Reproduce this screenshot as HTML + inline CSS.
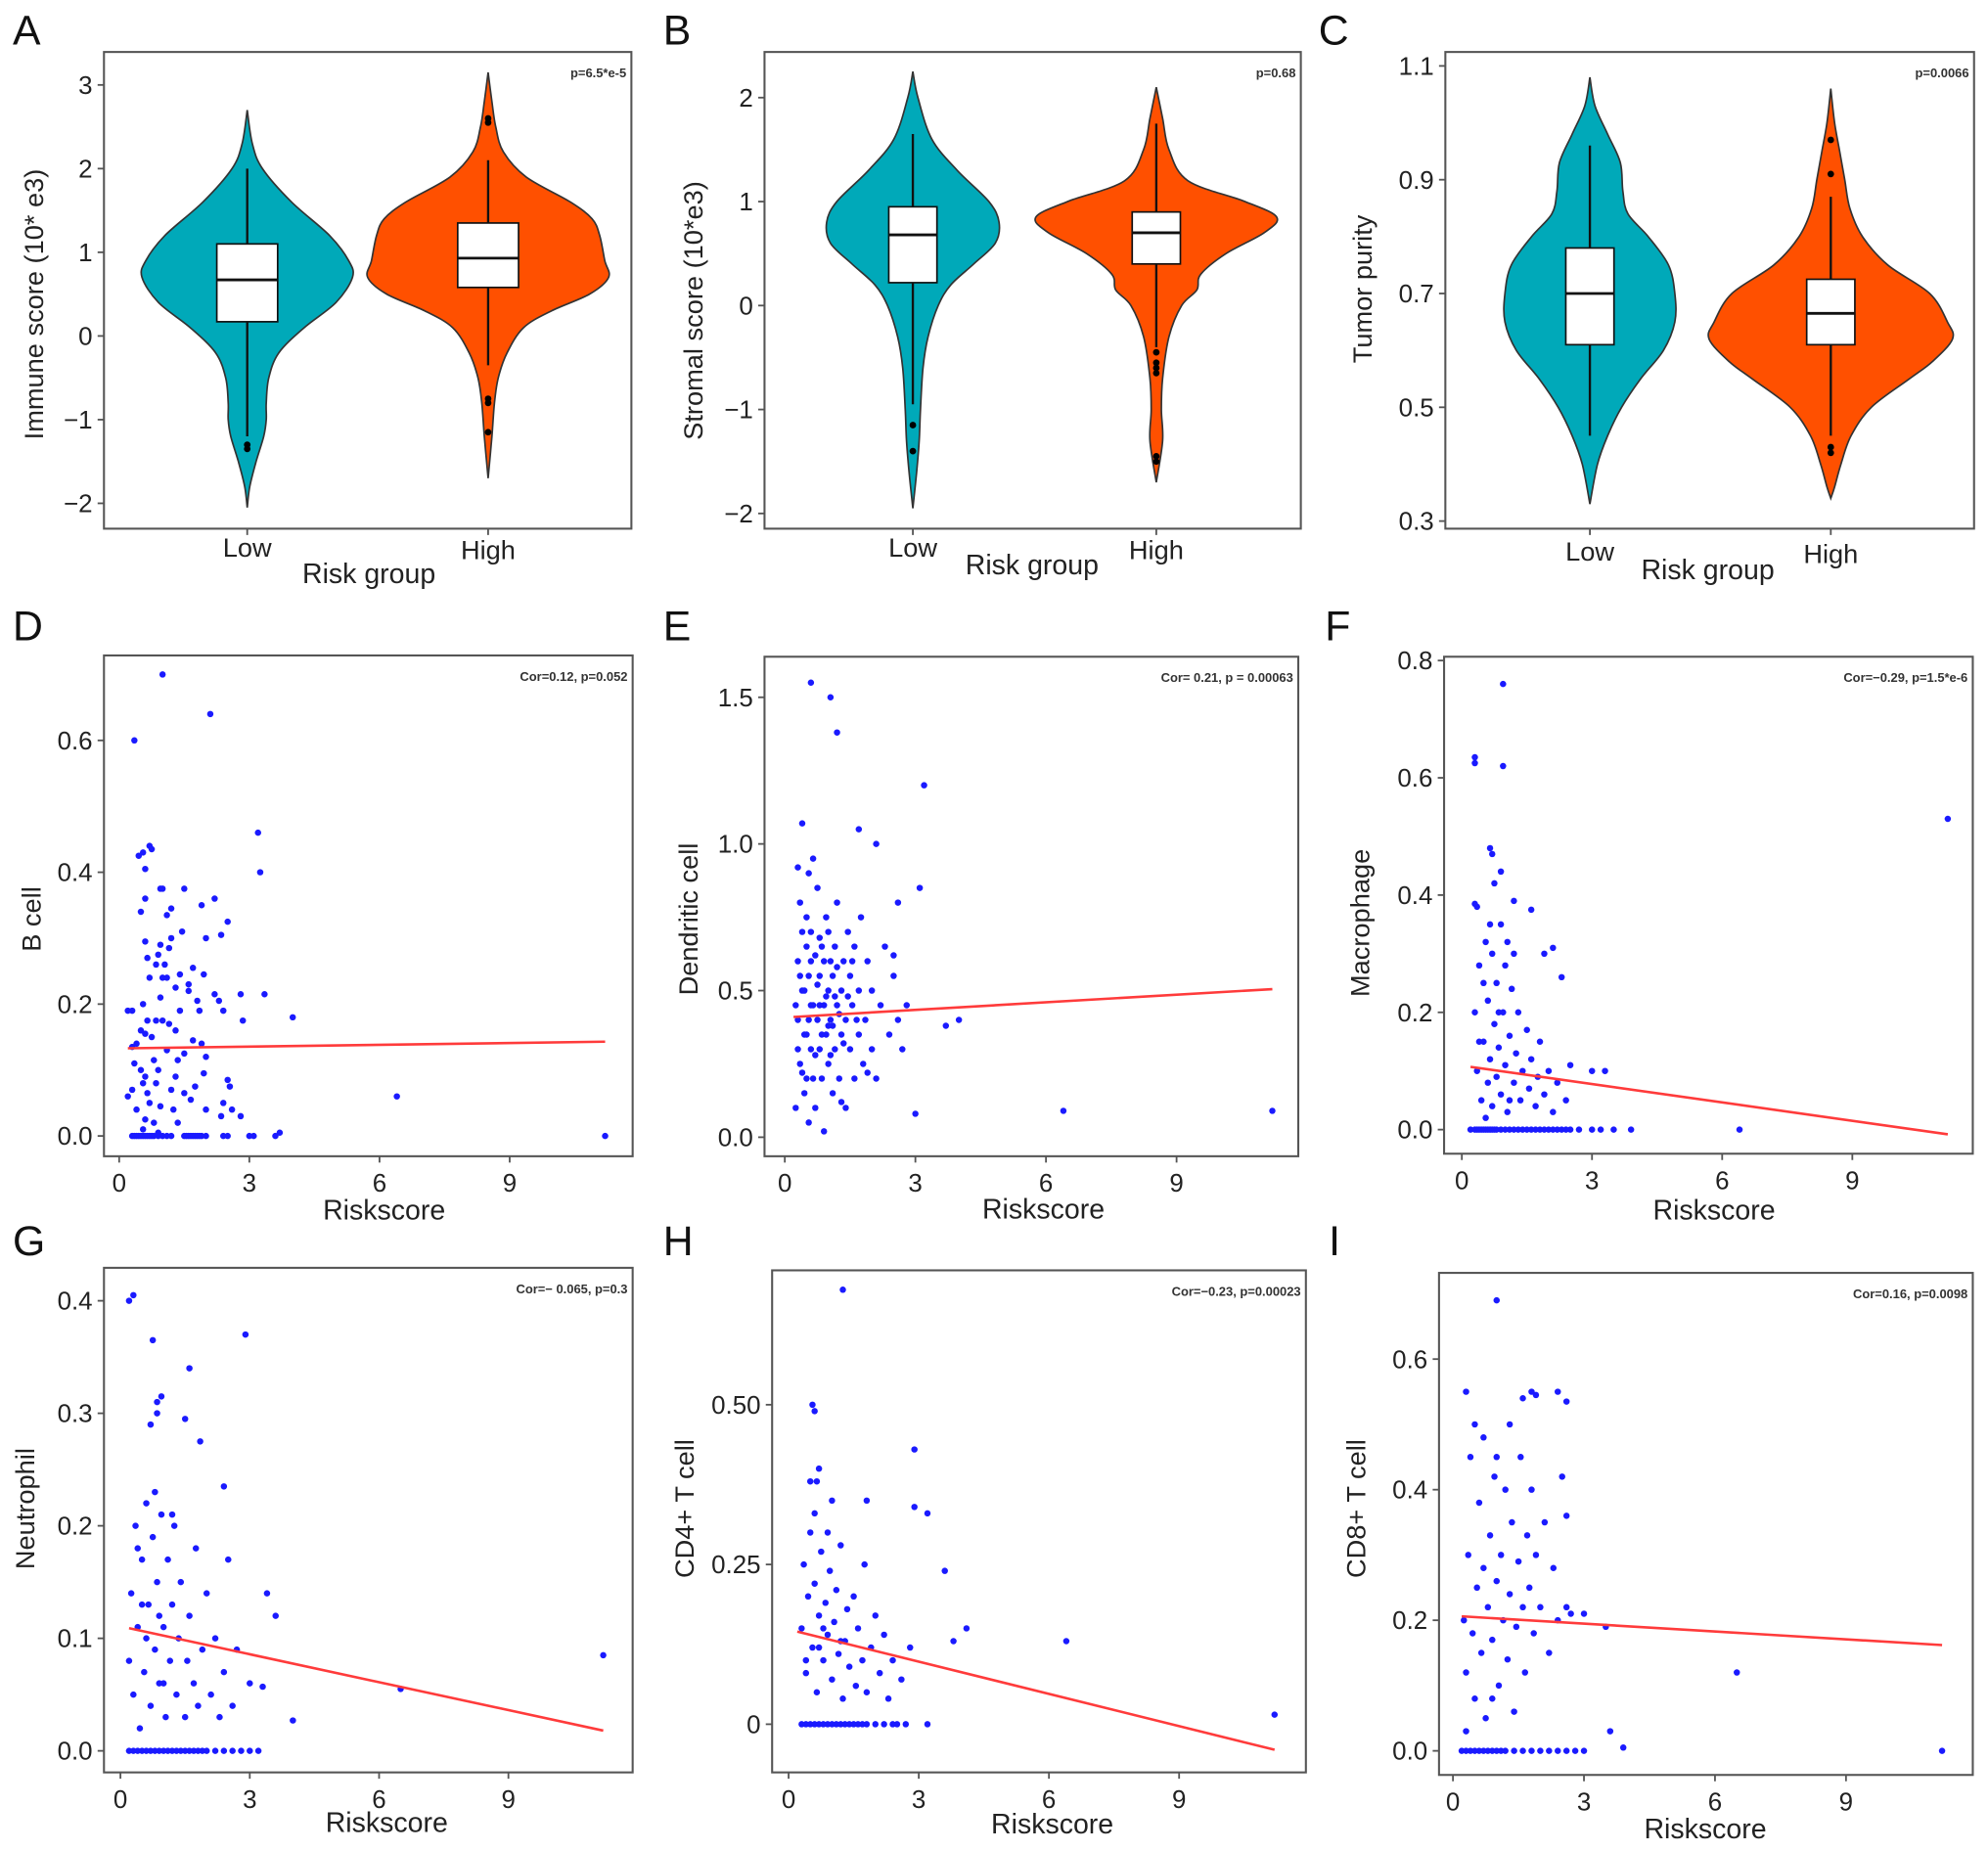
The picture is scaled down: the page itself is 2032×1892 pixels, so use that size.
<!DOCTYPE html>
<html><head><meta charset="utf-8"><title>Immune infiltration panels</title>
<style>
html,body{margin:0;padding:0;background:#fff;}
svg{display:block;font-family:"Liberation Sans",Arial,sans-serif;}
</style></head>
<body>
<svg id="fig" width="2032" height="1892" viewBox="0 0 1568 1460" preserveAspectRatio="none" xmlns="http://www.w3.org/2000/svg"></svg>
<script>
// ---------- Violin data (value, density half-width) ----------
const immuneLowShape=[[2.7,0],[2.3,4],[2.0,12],[1.6,35],[1.2,65],[0.9,80],[0.7,83],[0.4,70],[0.1,45],[-0.2,25],[-0.5,17],[-0.8,15],[-1.0,15],[-1.2,13],[-1.5,7],[-1.8,2],[-2.05,0]];
const immuneHighShape=[[3.15,0],[2.8,3],[2.5,6],[2.2,12],[1.9,30],[1.6,65],[1.4,82],[1.2,88],[0.9,92],[0.7,95],[0.5,80],[0.3,50],[0.1,28],[-0.2,15],[-0.5,8],[-0.8,5],[-1.2,3],[-1.7,0]];
const immuneLowBox=[-1.2,0.17,0.67,1.1,2.0];
const immuneHighBox=[-0.35,0.58,0.93,1.35,2.1];
const immuneLowOut=[-1.3,-1.35];
const immuneHighOut=[2.55,2.6,-0.75,-0.8,-1.15];
const stromalLowShape=[[2.25,0],[2.0,4],[1.6,15],[1.3,35],[1.0,60],[0.8,68],[0.6,65],[0.4,48],[0.2,30],[0,20],[-0.3,12],[-0.6,8],[-1.0,6],[-1.3,5],[-1.6,3],[-1.95,0]];
const stromalHighShape=[[2.1,0],[1.8,5],[1.5,10],[1.2,25],[1.0,70],[0.85,95],[0.7,85],[0.5,55],[0.3,35],[0.15,32],[0,20],[-0.3,10],[-0.7,5],[-1.0,4],[-1.3,5],[-1.7,0]];
const stromalLowBox=[-0.95,0.22,0.68,0.95,1.65];
const stromalHighBox=[-0.4,0.4,0.7,0.9,1.75];
const stromalLowOut=[-1.15,-1.4];
const stromalHighOut=[-0.45,-0.55,-0.6,-0.65,-1.45,-1.5];
const purityLowShape=[[1.08,0],[1.03,4],[0.98,14],[0.93,24],[0.88,26],[0.84,30],[0.8,46],[0.75,62],[0.7,67],[0.65,67],[0.6,58],[0.55,40],[0.5,25],[0.45,14],[0.4,6],[0.33,0]];
const purityHighShape=[[1.06,0],[1.0,3],[0.95,7],[0.9,11],[0.85,15],[0.8,25],[0.75,45],[0.7,78],[0.65,92],[0.62,96],[0.58,80],[0.55,62],[0.5,32],[0.45,16],[0.4,8],[0.36,3],[0.34,0]];
const purityLowBox=[0.45,0.61,0.7,0.78,0.96];
const purityHighBox=[0.45,0.61,0.665,0.725,0.87];
const purityLowOut=[];
const purityHighOut=[0.97,0.91,0.43,0.42];
const violinTicksA=[-2,-1,0,1,2,3];
const violinTicksB=[-2,-1,0,1,2];
const violinTicksC=[0.3,0.5,0.7,0.9,1.1];
const groups=["Low","High"];

// ---------- Scatter data ----------
const xTicks=[0,3,6,9];
const bcellPts=[[1.0,0.70],[0.35,0.60],[2.1,0.64],[3.2,0.46],[3.25,0.40],[0.7,0.44],[0.75,0.435],[0.55,0.43],[0.45,0.425],[0.6,0.405],[0.95,0.375],[1.0,0.375],[1.5,0.375],[2.2,0.36],[1.9,0.35],[1.2,0.345],[0.6,0.36],[1.1,0.335],[0.5,0.34],[2.5,0.325],[2.35,0.305],[2.0,0.30],[1.2,0.30],[1.45,0.31],[0.6,0.295],[0.95,0.29],[1.15,0.285],[0.9,0.275],[0.65,0.27],[1.05,0.26],[0.85,0.26],[1.7,0.255],[1.4,0.245],[0.7,0.24],[1.0,0.24],[1.1,0.24],[1.95,0.245],[1.6,0.23],[1.3,0.225],[1.6,0.22],[2.2,0.215],[2.8,0.215],[3.35,0.215],[0.95,0.21],[0.55,0.20],[2.3,0.205],[1.8,0.205],[0.2,0.19],[0.3,0.19],[1.4,0.19],[2.4,0.19],[1.85,0.19],[4.0,0.18],[2.85,0.175],[0.65,0.175],[0.85,0.175],[1.0,0.175],[1.15,0.17],[0.5,0.16],[1.3,0.16],[0.6,0.155],[0.75,0.15],[1.7,0.145],[0.4,0.14],[1.9,0.14],[0.3,0.135],[1.1,0.13],[1.5,0.125],[2.0,0.12],[0.35,0.11],[0.8,0.115],[1.35,0.115],[0.5,0.10],[0.9,0.10],[1.95,0.095],[0.6,0.09],[1.3,0.09],[2.5,0.085],[0.55,0.08],[0.85,0.08],[1.75,0.075],[2.55,0.075],[0.3,0.07],[1.2,0.07],[0.65,0.065],[1.5,0.065],[6.4,0.06],[0.2,0.06],[1.65,0.055],[0.7,0.05],[2.4,0.05],[0.95,0.045],[0.4,0.04],[1.25,0.04],[2.0,0.04],[2.6,0.04],[0.6,0.025],[2.35,0.03],[2.8,0.03],[0.8,0.02],[1.35,0.02],[0.55,0.01],[0.9,0.005],[3.7,0.005],[11.2,0]];
const bcellZeros=[0.3,0.35,0.4,0.45,0.5,0.55,0.6,0.65,0.7,0.75,0.8,0.9,1.0,1.1,1.2,1.5,1.55,1.6,1.65,1.7,1.75,1.8,1.85,1.9,2.0,2.4,2.5,3.0,3.1,3.6];
const dendPts=[[0.6,1.55],[1.05,1.5],[1.2,1.38],[3.2,1.2],[0.4,1.07],[1.7,1.05],[2.1,1.0],[0.3,0.92],[3.1,0.85],[2.6,0.8],[6.4,0.09],[11.2,0.09],[3.0,0.08],[4.0,0.4],[3.7,0.38],[0.3,0.6],[0.35,0.25],[0.4,0.5],[0.45,0.15],[0.5,0.75],[0.5,0.35],[0.55,0.05],[0.55,0.55],[0.6,0.3],[0.6,0.7],[0.65,0.45],[0.65,0.2],[0.7,0.62],[0.7,0.1],[0.75,0.4],[0.75,0.85],[0.8,0.3],[0.8,0.55],[0.85,0.2],[0.85,0.65],[0.9,0.45],[0.9,0.02],[0.95,0.35],[0.95,0.75],[1.0,0.5],[1.0,0.25],[1.05,0.6],[1.05,0.4],[1.1,0.15],[1.1,0.55],[1.15,0.3],[1.15,0.65],[1.2,0.45],[1.2,0.8],[1.25,0.2],[1.3,0.5],[1.3,0.35],[1.35,0.6],[1.4,0.1],[1.4,0.4],[1.45,0.7],[1.5,0.3],[1.5,0.55],[1.55,0.45],[1.6,0.2],[1.6,0.65],[1.7,0.35],[1.7,0.5],[1.75,0.75],[1.8,0.25],[1.85,0.4],[1.9,0.6],[2.0,0.3],[2.0,0.5],[2.1,0.2],[2.2,0.45],[2.3,0.65],[2.4,0.35],[2.5,0.55],[2.6,0.4],[2.7,0.3],[2.8,0.45],[0.25,0.1],[0.3,0.4],[0.4,0.7],[0.45,0.35],[0.5,0.2],[0.6,0.45],[0.7,0.28],[0.8,0.45],[0.9,0.6],[1.0,0.7],[1.1,0.38],[1.2,0.58],[1.3,0.12],[0.35,0.8],[0.55,0.9],[0.65,0.95],[2.5,0.62],[1.9,0.22],[0.3,0.3],[0.45,0.5],[0.55,0.4],[0.75,0.52],[0.85,0.35],[0.95,0.48],[1.05,0.28],[1.25,0.42],[1.35,0.32],[1.45,0.48],[1.55,0.6],[1.65,0.4],[0.4,0.22],[0.6,0.6],[0.8,0.68],[1.0,0.38],[1.15,0.48],[0.25,0.45],[0.35,0.55],[0.5,0.65]];
const dendZeros=[];
const macroPts=[[0.95,0.76],[0.3,0.635],[0.3,0.625],[0.95,0.62],[0.65,0.48],[0.7,0.47],[11.2,0.53],[0.9,0.44],[1.2,0.39],[1.6,0.375],[0.3,0.385],[2.1,0.31],[1.9,0.3],[2.3,0.26],[3.0,0.1],[3.3,0.1],[0.3,0.2],[0.35,0.1],[0.4,0.28],[0.45,0.05],[0.5,0.15],[0.55,0.32],[0.6,0.08],[0.6,0.22],[0.65,0.12],[0.7,0.3],[0.7,0.04],[0.75,0.18],[0.8,0.09],[0.8,0.25],[0.85,0.14],[0.9,0.35],[0.9,0.06],[0.95,0.2],[1.0,0.11],[1.0,0.28],[1.05,0.03],[1.1,0.16],[1.15,0.24],[1.2,0.08],[1.25,0.13],[1.3,0.2],[1.35,0.05],[1.4,0.1],[1.5,0.17],[1.55,0.07],[1.6,0.12],[1.7,0.04],[1.75,0.09],[1.8,0.15],[1.9,0.06],[2.0,0.1],[2.1,0.03],[2.2,0.08],[2.4,0.05],[2.5,0.11],[0.35,0.38],[0.5,0.25],[0.65,0.35],[0.75,0.42],[1.05,0.32],[1.2,0.3],[0.4,0.15],[0.55,0.02],[0.85,0.2],[1.1,0.05]];
const macroZeros=[0.2,0.3,0.35,0.4,0.45,0.5,0.55,0.6,0.65,0.7,0.75,0.8,0.9,1.0,1.1,1.2,1.3,1.4,1.5,1.6,1.7,1.8,1.9,2.0,2.1,2.2,2.3,2.4,2.5,2.7,3.0,3.2,3.5,3.9,6.4];
const neutPts=[[0.2,0.40],[0.3,0.405],[0.75,0.365],[2.9,0.37],[1.6,0.34],[0.85,0.31],[0.95,0.315],[1.5,0.295],[0.85,0.30],[0.7,0.29],[1.85,0.275],[2.4,0.235],[3.4,0.14],[3.6,0.12],[11.2,0.085],[6.5,0.055],[4.0,0.027],[3.3,0.057],[0.2,0.08],[0.25,0.14],[0.3,0.05],[0.35,0.2],[0.4,0.11],[0.45,0.02],[0.5,0.17],[0.55,0.07],[0.6,0.22],[0.65,0.13],[0.7,0.04],[0.75,0.19],[0.8,0.09],[0.85,0.15],[0.9,0.06],[0.95,0.21],[1.0,0.11],[1.05,0.03],[1.1,0.17],[1.15,0.08],[1.2,0.13],[1.25,0.2],[1.3,0.05],[1.35,0.1],[1.4,0.15],[1.5,0.03],[1.55,0.08],[1.6,0.12],[1.7,0.06],[1.75,0.18],[1.8,0.04],[1.9,0.09],[2.0,0.14],[2.1,0.05],[2.2,0.1],[2.3,0.03],[2.4,0.07],[2.5,0.17],[2.6,0.04],[2.7,0.09],[3.0,0.06],[0.4,0.18],[0.6,0.1],[0.8,0.23],[1.0,0.06],[1.2,0.21],[0.5,0.13],[0.9,0.12]];
const neutZeros=[0.2,0.3,0.4,0.5,0.6,0.7,0.8,0.9,1.0,1.1,1.2,1.3,1.4,1.5,1.6,1.7,1.8,1.9,2.0,2.2,2.4,2.6,2.8,3.0,3.2];
const cd4Pts=[[1.25,0.68],[0.55,0.5],[0.6,0.49],[2.9,0.43],[0.7,0.4],[0.65,0.38],[3.2,0.33],[2.9,0.34],[1.8,0.35],[3.6,0.24],[4.1,0.15],[3.8,0.13],[6.4,0.13],[11.2,0.015],[0.3,0.15],[0.35,0.25],[0.4,0.08],[0.45,0.2],[0.5,0.3],[0.55,0.12],[0.6,0.22],[0.65,0.05],[0.7,0.17],[0.75,0.27],[0.8,0.1],[0.85,0.19],[0.9,0.14],[0.95,0.24],[1.0,0.07],[1.05,0.16],[1.1,0.21],[1.15,0.11],[1.2,0.28],[1.25,0.04],[1.3,0.13],[1.35,0.18],[1.4,0.09],[1.5,0.2],[1.55,0.06],[1.6,0.15],[1.7,0.1],[1.75,0.25],[1.8,0.05],[1.9,0.12],[2.0,0.17],[2.1,0.08],[2.2,0.14],[2.3,0.04],[2.4,0.1],[2.6,0.07],[2.8,0.12],[0.5,0.38],[0.6,0.33],[0.9,0.3],[1.0,0.35],[0.4,0.1],[0.7,0.12],[1.2,0.13],[0.8,0.15]];
const cd4Zeros=[0.3,0.4,0.5,0.6,0.7,0.8,0.9,1.0,1.1,1.2,1.3,1.4,1.5,1.6,1.7,1.8,2.0,2.2,2.4,2.5,2.7,3.2];
const cd8Pts=[[1.0,0.69],[1.8,0.55],[1.9,0.545],[2.4,0.55],[2.6,0.535],[1.6,0.54],[0.3,0.55],[2.6,0.36],[3.0,0.21],[3.5,0.19],[3.6,0.03],[3.9,0.005],[6.5,0.12],[11.2,0],[0.25,0.2],[0.3,0.12],[0.35,0.3],[0.4,0.45],[0.45,0.18],[0.5,0.08],[0.55,0.25],[0.6,0.38],[0.65,0.15],[0.7,0.28],[0.75,0.05],[0.8,0.22],[0.85,0.33],[0.9,0.17],[0.95,0.42],[1.0,0.26],[1.05,0.1],[1.1,0.3],[1.15,0.2],[1.2,0.4],[1.25,0.14],[1.3,0.24],[1.35,0.35],[1.4,0.06],[1.45,0.19],[1.5,0.29],[1.55,0.45],[1.6,0.22],[1.65,0.12],[1.7,0.33],[1.75,0.25],[1.8,0.4],[1.85,0.18],[1.9,0.3],[2.0,0.22],[2.1,0.35],[2.2,0.15],[2.3,0.28],[2.4,0.2],[2.5,0.42],[2.6,0.22],[2.7,0.21],[0.5,0.5],[0.7,0.48],[1.0,0.45],[0.3,0.03],[0.9,0.08],[1.3,0.5]];
const cd8Zeros=[0.2,0.3,0.4,0.5,0.6,0.7,0.8,0.9,1.0,1.1,1.2,1.4,1.6,1.8,2.0,2.2,2.4,2.6,2.8,3.0];
// fitted line endpoints [x0, y0, x1, y1]
const bcellFit=[0.2,0.133,11.2,0.143];
const dendFit=[0.2,0.41,11.2,0.505];
const macroFit=[0.2,0.107,11.2,-0.008];
const neutFit=[0.2,0.109,11.2,0.018];
const cd4Fit=[0.2,0.145,11.2,-0.04];
const cd8Fit=[0.2,0.206,11.2,0.162];
const bcellTicks=[0,0.2,0.4,0.6], dendTicks=[0,0.5,1.0,1.5], macroTicks=[0,0.2,0.4,0.6,0.8], neutTicks=[0,0.1,0.2,0.3,0.4], cd4Ticks=[0,0.25,0.5], cd8Ticks=[0,0.2,0.4,0.6];

const NS="http://www.w3.org/2000/svg";
const svg=document.getElementById('fig');
function mk(tag,attrs,parent){const e=document.createElementNS(NS,tag);for(const k in attrs)e.setAttribute(k,attrs[k]);(parent||svg).appendChild(e);return e;}
function txt(s,attrs,parent){const e=mk('text',attrs,parent);e.textContent=s;return e;}
function lin(d0,d1,r0,r1){return v=>r0+(v-d0)*(r1-r0)/(d1-d0);}

function frame(g,L){
  const r=mk('rect',{x:L.x0,y:L.y0,width:L.x1-L.x0,height:L.y1-L.y0,fill:'none',stroke:'#555','stroke-width':1.6},g);
  
  
}
function yAxis(g,L,ys,ticks,fmt){
  const ax=mk('g',{},g);
  
  
  ticks.forEach(t=>{
    const y=ys(t);
    mk('line',{x1:L.x0-5,x2:L.x0,y1:y,y2:y,stroke:'#555','stroke-width':1.4},ax);
    const tl=txt(fmt(t),{x:L.x0-9,y:y+7,'text-anchor':'end','font-size':20,fill:'#222'},ax);
    
    
  });
}
function yTitle(g,s,x,y){
  const t=txt(s,{x:0,y:0,transform:`translate(${x},${y}) rotate(-90)`,'text-anchor':'middle','font-size':21,fill:'#222'},g);
  
  
}
function xTitle(g,s,x,y){
  const t=txt(s,{x:x,y:y,'text-anchor':'middle','font-size':22,fill:'#222'},g);
  
  
}
function letter(s,x,y){
  const t=txt(s,{x:x,y:y,'font-size':33,fill:'#111'});
  
  
}
function note(g,L,s){
  const t=txt(s,{x:L.x1-4,y:L.y0+20,'text-anchor':'end','font-size':10,'font-weight':'bold',fill:'#333'},g);
  
  
}
function smoothPath(pts){
  let d=`M${pts[0][0]},${pts[0][1]}`;
  for(let i=0;i<pts.length-1;i++){
    const p0=pts[i-1]||pts[i],p1=pts[i],p2=pts[i+1],p3=pts[i+2]||p2;
    const c1=[p1[0]+(p2[0]-p0[0])/6,p1[1]+(p2[1]-p0[1])/6];
    const c2=[p2[0]-(p3[0]-p1[0])/6,p2[1]-(p3[1]-p1[1])/6];
    d+=` C${c1[0]},${c1[1]} ${c2[0]},${c2[1]} ${p2[0]},${p2[1]}`;
  }
  return d;
}
function violin(g,cx,ys,shape,box,outs,color,bw,name){
  const vg=mk('g',{},g);
  
  
  const right=shape.map(p=>[cx+p[1],ys(p[0])]);
  const left=shape.slice().reverse().map(p=>[cx-p[1],ys(p[0])]);
  const d=smoothPath(right)+' '+smoothPath(left).replace('M','L')+'Z';
  mk('path',{d:d,fill:color,stroke:'#333','stroke-width':1.3},vg);
  mk('line',{x1:cx,x2:cx,y1:ys(box[0]),y2:ys(box[4]),stroke:'#111','stroke-width':1.8},vg);
  const b=mk('rect',{x:cx-bw,width:2*bw,y:ys(box[3]),height:ys(box[1])-ys(box[3]),fill:'#fff',stroke:'#111','stroke-width':1.3},vg);
  
  
  mk('line',{x1:cx-bw,x2:cx+bw,y1:ys(box[2]),y2:ys(box[2]),stroke:'#111','stroke-width':2.2},vg);
  outs.forEach(o=>mk('circle',{cx:cx,cy:ys(o),r:2.6,fill:'#000'},vg));
}
function violinPanel(cfg){
  const L=cfg.L,g=mk('g',{});
  
  
  const ys=lin(cfg.ya[0],cfg.ya[1],cfg.ya[2],cfg.ya[3]);
  frame(g,L);
  yAxis(g,L,ys,cfg.ticks,cfg.fmt);
  violin(g,cfg.cx[0],ys,cfg.shapes[0],cfg.boxes[0],cfg.outs[0],'#00a9b9',cfg.bw,'violin-low');
  violin(g,cfg.cx[1],ys,cfg.shapes[1],cfg.boxes[1],cfg.outs[1],'#ff5000',cfg.bw,'violin-high');
  groups.forEach((s,i)=>{
    mk('line',{x1:cfg.cx[i],x2:cfg.cx[i],y1:L.y1,y2:L.y1+5,stroke:'#555','stroke-width':1.4},g);
    const t=txt(s,{x:cfg.cx[i],y:cfg.gy[i],'text-anchor':'middle','font-size':21,fill:'#222'},g);
    
    
  });
  xTitle(g,'Risk group',cfg.xt[0],cfg.xt[1]);
  yTitle(g,cfg.ytitle,cfg.yt[0],cfg.yt[1]);
  note(g,L,cfg.note);
}
function scatterPanel(cfg){
  const L=cfg.L,g=mk('g',{});
  
  
  const xs=lin(cfg.xa[0],cfg.xa[1],cfg.xa[2],cfg.xa[3]);
  const ys=lin(cfg.ya[0],cfg.ya[1],cfg.ya[2],cfg.ya[3]);
  frame(g,L);
  yAxis(g,L,ys,cfg.ticks,cfg.fmt);
  const xa=mk('g',{},g);
  
  
  xTicks.forEach(t=>{
    const x=xs(t);
    mk('line',{x1:x,x2:x,y1:L.y1,y2:L.y1+5,stroke:'#555','stroke-width':1.4},xa);
    txt(String(t),{x:x,y:L.y1+28,'text-anchor':'middle','font-size':20,fill:'#222'},xa);
  });
  const pg=mk('g',{fill:'#1a1aff'},g);
  
  
  cfg.pts.forEach(p=>{
    const c=mk('circle',{cx:xs(p[0]),cy:ys(p[1]),r:2.5},pg);
    
    
  });
  cfg.zeros.forEach(x=>{
    const c=mk('circle',{cx:xs(x),cy:ys(0),r:2.5},pg);
    
    
  });
  const f=cfg.fit;
  const ln=mk('line',{x1:xs(f[0]),y1:ys(f[1]),x2:xs(f[2]),y2:ys(f[3]),stroke:'#ff3b3b','stroke-width':2},g);
  
  
  xTitle(g,'Riskscore',cfg.xt[0],cfg.xt[1]);
  yTitle(g,cfg.ytitle,cfg.yt[0],cfg.yt[1]);
  note(g,L,cfg.note);
}
const f0=v=>String(v).replace('-','\u2212');
const f1=v=>v.toFixed(1);
const f2=v=>v===0?'0':v.toFixed(2);

violinPanel({name:'panel-a-immune-score',L:{x0:82,y0:41,x1:498,y1:417},ya:[0,1,265,199],ticks:violinTicksA,fmt:f0,cx:[195,385],bw:24,
  shapes:[immuneLowShape,immuneHighShape],boxes:[immuneLowBox,immuneHighBox],outs:[immuneLowOut,immuneHighOut],gy:[439,441],xt:[291,460],ytitle:'Immune score (10* e3)',yt:[34,240],note:'p=6.5*e-5'});
violinPanel({name:'panel-b-stromal-score',L:{x0:603,y0:41,x1:1026,y1:417},ya:[0,1,241,159],ticks:violinTicksB,fmt:f0,cx:[720,912],bw:19,
  shapes:[stromalLowShape,stromalHighShape],boxes:[stromalLowBox,stromalHighBox],outs:[stromalLowOut,stromalHighOut],gy:[439,441],xt:[814,453],ytitle:'Stromal score (10*e3)',yt:[554,245],note:'p=0.68'});
violinPanel({name:'panel-c-tumor-purity',L:{x0:1140,y0:41,x1:1557,y1:417},ya:[0.3,1.1,411,52],ticks:violinTicksC,fmt:f1,cx:[1254,1444],bw:19,
  shapes:[purityLowShape,purityHighShape],boxes:[purityLowBox,purityHighBox],outs:[purityLowOut,purityHighOut],gy:[442,444],xt:[1347,457],ytitle:'Tumor purity',yt:[1082,228],note:'p=0.0066'});

scatterPanel({name:'panel-d-b-cell',L:{x0:82,y0:517,x1:499,y1:912},xa:[0,9,94,402],ya:[0,0.6,896,584],ticks:bcellTicks,fmt:f1,pts:bcellPts,zeros:bcellZeros,fit:bcellFit,xt:[303,962],ytitle:'B cell',yt:[32,725],note:'Cor=0.12, p=0.052'});
scatterPanel({name:'panel-e-dendritic-cell',L:{x0:603,y0:518,x1:1024,y1:912},xa:[0,9,619,928],ya:[0,1.5,897,550],ticks:dendTicks,fmt:f1,pts:dendPts,zeros:dendZeros,fit:dendFit,xt:[823,961],ytitle:'Dendritic cell',yt:[550,725],note:'Cor= 0.21, p = 0.00063'});
scatterPanel({name:'panel-f-macrophage',L:{x0:1139,y0:518,x1:1556,y1:910},xa:[0,9,1153,1461],ya:[0,0.8,891,521],ticks:macroTicks,fmt:f1,pts:macroPts,zeros:macroZeros,fit:macroFit,xt:[1352,962],ytitle:'Macrophage',yt:[1080,728],note:'Cor=\u22120.29, p=1.5*e-6'});
scatterPanel({name:'panel-g-neutrophil',L:{x0:82,y0:1000,x1:499,y1:1398},xa:[0,9,95,401],ya:[0,0.4,1381,1026],ticks:neutTicks,fmt:f1,pts:neutPts,zeros:neutZeros,fit:neutFit,xt:[305,1445],ytitle:'Neutrophil',yt:[27,1190],note:'Cor=\u2212 0.065, p=0.3'});
scatterPanel({name:'panel-h-cd4-t-cell',L:{x0:609,y0:1002,x1:1030,y1:1398},xa:[0,9,622,930],ya:[0,0.5,1360,1108],ticks:cd4Ticks,fmt:f2,pts:cd4Pts,zeros:cd4Zeros,fit:cd4Fit,xt:[830,1446],ytitle:'CD4+ T cell',yt:[547,1190],note:'Cor=\u22120.23, p=0.00023'});
scatterPanel({name:'panel-i-cd8-t-cell',L:{x0:1135,y0:1004,x1:1556,y1:1400},xa:[0,9,1146,1456],ya:[0,0.6,1381,1072],ticks:cd8Ticks,fmt:f1,pts:cd8Pts,zeros:cd8Zeros,fit:cd8Fit,xt:[1345,1450],ytitle:'CD8+ T cell',yt:[1077,1190],note:'Cor=0.16, p=0.0098'});

[['A',10,35],['B',523,35],['C',1040,35],['D',10,505],['E',523,505],['F',1045,505],['G',10,990],['H',523,990],['I',1048,990]].forEach(l=>letter(l[0],l[1],l[2]));
</script>
</body></html>
